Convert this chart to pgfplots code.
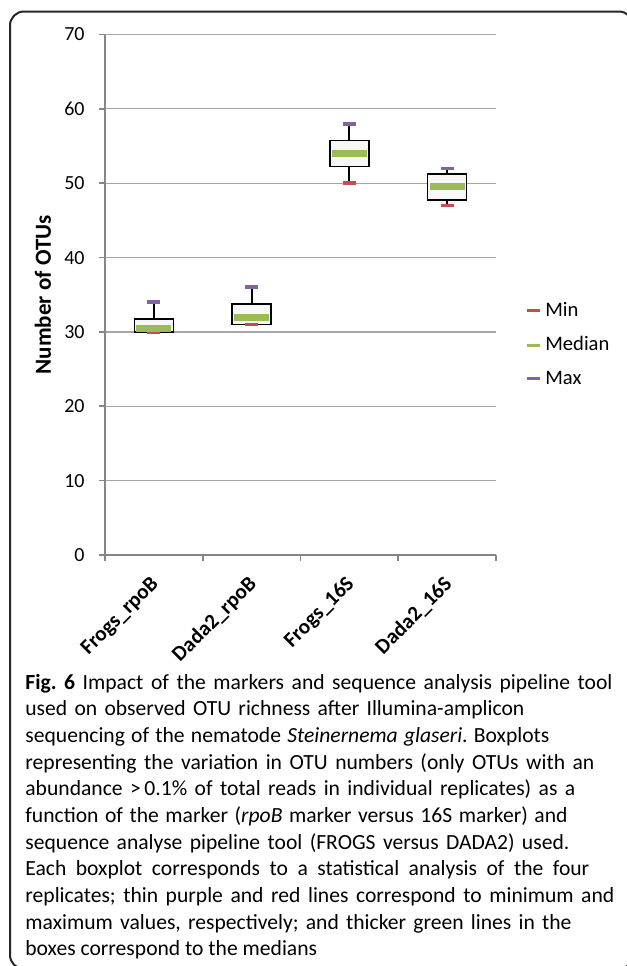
\documentclass[border=0pt]{standalone}
\usepackage{pgfplots}
\pgfplotsset{compat=1.18}
\usepackage{pgfplotstable}
\usepackage{fontspec}
\setmainfont{Carlito}
\frenchspacing
\definecolor{minred}{HTML}{C0504D}
\definecolor{medgreen}{HTML}{9BBB59}
\definecolor{maxpurple}{HTML}{8064A2}
\definecolor{axgray}{HTML}{868686}
\definecolor{gridgray}{HTML}{A6A6A6}
\definecolor{boxfill}{HTML}{F7F7F7}

\pgfplotstableread{
x min q1 med q3 max
1 30 30 30.5 31.75 34
2 31 31 32 33.75 36
3 50 52.25 54 55.75 58
4 47 47.75 49.5 51.25 52
}\boxdata

\newcommand\capline[3]{\node[anchor=base west, inner sep=0pt] at (12.5pt,{-(344.5+13.333*#1)*1pt}) {\makebox[#2pt][s]{#3}};}

\begin{document}
\begin{tikzpicture}
\useasboundingbox (0,0) rectangle (313.5pt,-483pt);
\draw[line width=1pt, color=black!85, rounded corners=7pt] (5pt,-5.75pt) rectangle (316.5pt,-484.5pt);
\begin{axis}[
  at={(52.5pt,-277.5pt)}, anchor=south west,
  scale only axis, width=195.5pt, height=260.25pt,
  xmin=0.5, xmax=4.5, ymin=0, ymax=70,
  axis x line*=bottom, axis y line*=left,
  axis line style={axgray, line width=0.8pt},
  ytick={0,10,...,70},
  xtick={1,2,3,4},
  xticklabels={Frogs\_rpoB, Dada2\_rpoB, Frogs\_16S, Dada2\_16S},
  minor xtick={0.5,1.5,2.5,3.5,4.5},
  major x tick style={draw=none},
  tick align=outside,
  major tick length=3pt, minor tick length=3pt,
  tick style={axgray, line width=0.8pt},
  ymajorgrids, major grid style={gridgray, line width=0.6pt},
  /pgf/number format/assume math mode=true,
  yticklabel style={font=\fontsize{10}{12}\selectfont, inner sep=0pt, xshift=-7pt},
  xticklabel style={font=\bfseries\fontsize{10.6}{13}\selectfont, inner sep=0pt, xshift=1pt, yshift=-10pt, rotate=45, anchor=east},
  ylabel={Number of OTUs},
  every axis y label/.style={at={(axis description cs:-0.1586,0.5)}, anchor=center, rotate=90, font=\bfseries\fontsize{11.5}{13}\selectfont},
  legend style={draw=none, fill=none, at={(axis description cs:1.074,0.404)}, anchor=west, inner sep=0pt, row sep=4.5pt, font=\fontsize{10.3}{12}\selectfont, legend cell align=left},
  legend image code/.code={\draw[#1] (0pt,0pt) -- (6.5pt,0pt);},
]
% min and max marks
\addplot[forget plot, only marks, mark=-, mark size=3.3pt, color=minred, mark options={line width=1.85pt}] table[x=x, y=min] {\boxdata};
\addplot[forget plot, only marks, mark=-, mark size=3.3pt, color=maxpurple, mark options={line width=1.85pt}] table[x=x, y=max] {\boxdata};
% whiskers
\addplot[forget plot, black, line width=1pt] coordinates {(1,31.75) (1,34)};
\addplot[forget plot, black, line width=1pt] coordinates {(2,33.75) (2,36)};
\addplot[forget plot, black, line width=1pt] coordinates {(2,31) (2,31)};
\addplot[forget plot, black, line width=1pt] coordinates {(3,55.75) (3,58)};
\addplot[forget plot, black, line width=1pt] coordinates {(3,50) (3,52.25)};
\addplot[forget plot, black, line width=1pt] coordinates {(4,51.25) (4,52)};
\addplot[forget plot, black, line width=1pt] coordinates {(4,47) (4,47.75)};
% boxes (lower quartile to upper quartile)
\addplot[forget plot, draw=black, fill=boxfill, line width=0.75pt, line join=miter] coordinates {(0.8,30) (1.2,30) (1.2,31.75) (0.8,31.75) (0.8,30)} -- cycle;
\addplot[forget plot, draw=black, fill=boxfill, line width=0.75pt, line join=miter] coordinates {(1.8,31) (2.2,31) (2.2,33.75) (1.8,33.75) (1.8,31)} -- cycle;
\addplot[forget plot, draw=black, fill=boxfill, line width=0.75pt, line join=miter] coordinates {(2.8,52.25) (3.2,52.25) (3.2,55.75) (2.8,55.75) (2.8,52.25)} -- cycle;
\addplot[forget plot, draw=black, fill=boxfill, line width=0.75pt, line join=miter] coordinates {(3.8,47.75) (4.2,47.75) (4.2,51.25) (3.8,51.25) (3.8,47.75)} -- cycle;
% medians
\addplot[forget plot, only marks, mark=-, mark size=8.75pt, color=medgreen, mark options={line width=3.5pt}] table[x=x, y=med] {\boxdata};
\addlegendimage{minred, line width=1.5pt}
\addlegendentry{Min}
\addlegendimage{medgreen, line width=1.5pt}
\addlegendentry{Median}
\addlegendimage{maxpurple, line width=1.5pt}
\addlegendentry{Max}
\end{axis}
\begin{scope}[font=\fontsize{10.8}{13}\selectfont]
\capline{0}{293.5}{\textbf{Fig. 6} Impact of the markers and sequence analysis pipeline tool}
\capline{1}{249.5}{used on observed OTU richness after Illumina-amplicon}
\capline{2}{262}{sequencing of the nematode \textit{Steinernema glaseri}. Boxplots}
\capline{3}{284.5}{representing the variation in OTU numbers (only OTUs with an}
\capline{4}{275}{abundance >\,0.1\% of total reads in individual replicates) as a}
\capline{5}{271}{function of the marker (\textit{rpoB} marker versus 16S marker) and}
\capline{6}{272}{sequence analyse pipeline tool (FROGS versus DADA2) used.}
\capline{7}{282}{Each boxplot corresponds to a statistical analysis of the four}
\capline{8}{294.5}{replicates; thin purple and red lines correspond to minimum and}
\capline{9}{273}{maximum values, respectively; and thicker green lines in the}
\node[anchor=base west, inner sep=0pt] at (12.5pt,{-(344.5+13.333*10)*1pt}) {boxes correspond to the medians};
\end{scope}
\end{tikzpicture}
\end{document}
